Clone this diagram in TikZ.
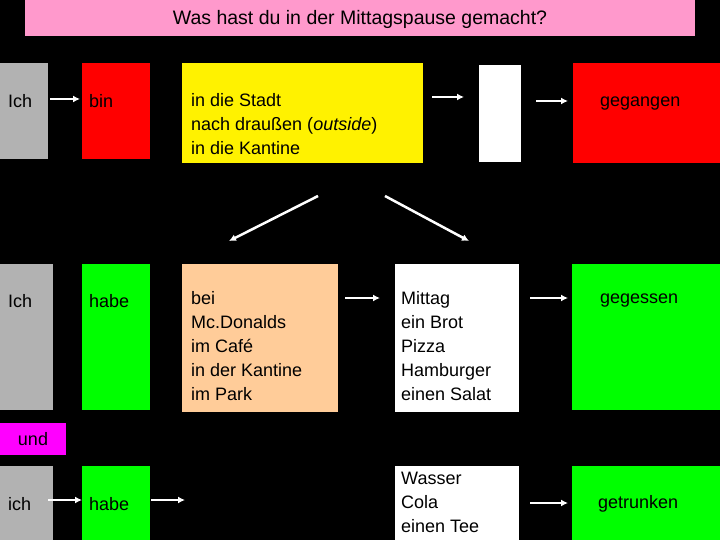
\documentclass[tikz,border=0pt]{standalone}
\usepackage{fontspec}
\setmainfont{Liberation Sans}
\begin{document}
\begin{tikzpicture}[x=1pt,y=-1pt,
  box/.style={inner sep=0pt,outer sep=0pt},
  lab/.style={font=\fontsize{18}{24}\selectfont,text=black,align=left,anchor=west,inner sep=0pt},
  arr/.style={draw=white,line width=2.5pt,-{Latex[length=7pt,width=7pt]}}]
\usetikzlibrary{arrows.meta}
\fill[black] (0,0) rectangle (720,540);
\useasboundingbox (0,0) rectangle (720,540);
\definecolor{pinkt}{HTML}{FF99CC}
\definecolor{grayb}{HTML}{B2B2B2}
\definecolor{peach}{HTML}{FFCC99}
\definecolor{magb}{HTML}{FF00FF}
\fill[pinkt] (25,0) rectangle (695,36);
\node[font=\fontsize{19.5}{24}\selectfont] (title) at (360,19) {Was hast du in der Mittagspause gemacht?};
% row 1
\fill[grayb] (0,63) rectangle (48,159);
\fill[red] (82,63) rectangle (150,159);
\fill[yellow] (182,63) rectangle (423,163);
\fill[white] (479,65) rectangle (521,162);
\fill[red] (573,63) rectangle (720,163);
\node[lab] (ich1) at (8,101) {Ich};
\node[lab] (bin) at (89,101) {bin};
\node[lab] (yel) at (191,124) {in die Stadt\\nach draußen (\textit{outside})\\in die Kantine};
\node[lab] (geg) at (600,104) {gegangen};
\coordinate (a1) at (50,99); \coordinate (b1) at (80,99);
\draw[arr] (a1) -- (b1);
\coordinate (a2) at (432,97); \coordinate (b2) at (464,97);
\draw[arr] (a2) -- (b2);
\coordinate (a3) at (536,101); \coordinate (b3) at (568,101);
\draw[arr] (a3) -- (b3);
\coordinate (d1) at (318,196); \coordinate (e1) at (229,241);
\draw[arr] (d1) -- (e1);
\coordinate (d2) at (385,196); \coordinate (e2) at (469,241);
\draw[arr] (d2) -- (e2);
% row 2
\fill[grayb] (0,264) rectangle (53,410);
\fill[green] (82,264) rectangle (150,410);
\fill[peach] (182,264) rectangle (338,412);
\fill[white] (395,264) rectangle (519,412);
\fill[green] (572,264) rectangle (720,410);
\node[lab] (ich2) at (8,301) {Ich};
\node[lab] (habe1) at (89,301) {habe};
\node[lab,anchor=north west] (pe) at (191,291) {bei\\Mc.Donalds\\im Café\\in der Kantine\\im Park};
\node[lab,anchor=north west] (wh) at (401,291) {Mittag\\ein Brot\\Pizza\\Hamburger\\einen Salat};
\node[lab] (ges) at (600,301) {gegessen};
\coordinate (f1) at (345,298); \coordinate (g1) at (380,298);
\draw[arr] (f1) -- (g1);
\coordinate (f2) at (530,298); \coordinate (g2) at (568,298);
\draw[arr] (f2) -- (g2);
% und
\fill[magb] (0,423) rectangle (66,455);
\node[font=\fontsize{18}{24}\selectfont] (und) at (33,439) {und};
% row 3
\fill[grayb] (0,466) rectangle (53,540);
\fill[green] (82,466) rectangle (150,540);
\fill[white] (395,466) rectangle (519,540);
\fill[green] (572,466) rectangle (720,540);
\node[lab] (ich3) at (8,504) {ich};
\node[lab] (habe2) at (89,504) {habe};
\node[lab,anchor=north west] (wt) at (401,472) {Wasser\\Cola\\einen Tee};
\node[lab] (getr) at (598,504) {getrunken};
\coordinate (h1) at (48,500); \coordinate (i1) at (82,500);
\draw[arr] (h1) -- (i1);
\coordinate (h2) at (151,500); \coordinate (i2) at (185,500);
\draw[arr] (h2) -- (i2);
\coordinate (h3) at (530,503); \coordinate (i3) at (568,503);
\draw[arr] (h3) -- (i3);
\end{tikzpicture}
\end{document}
